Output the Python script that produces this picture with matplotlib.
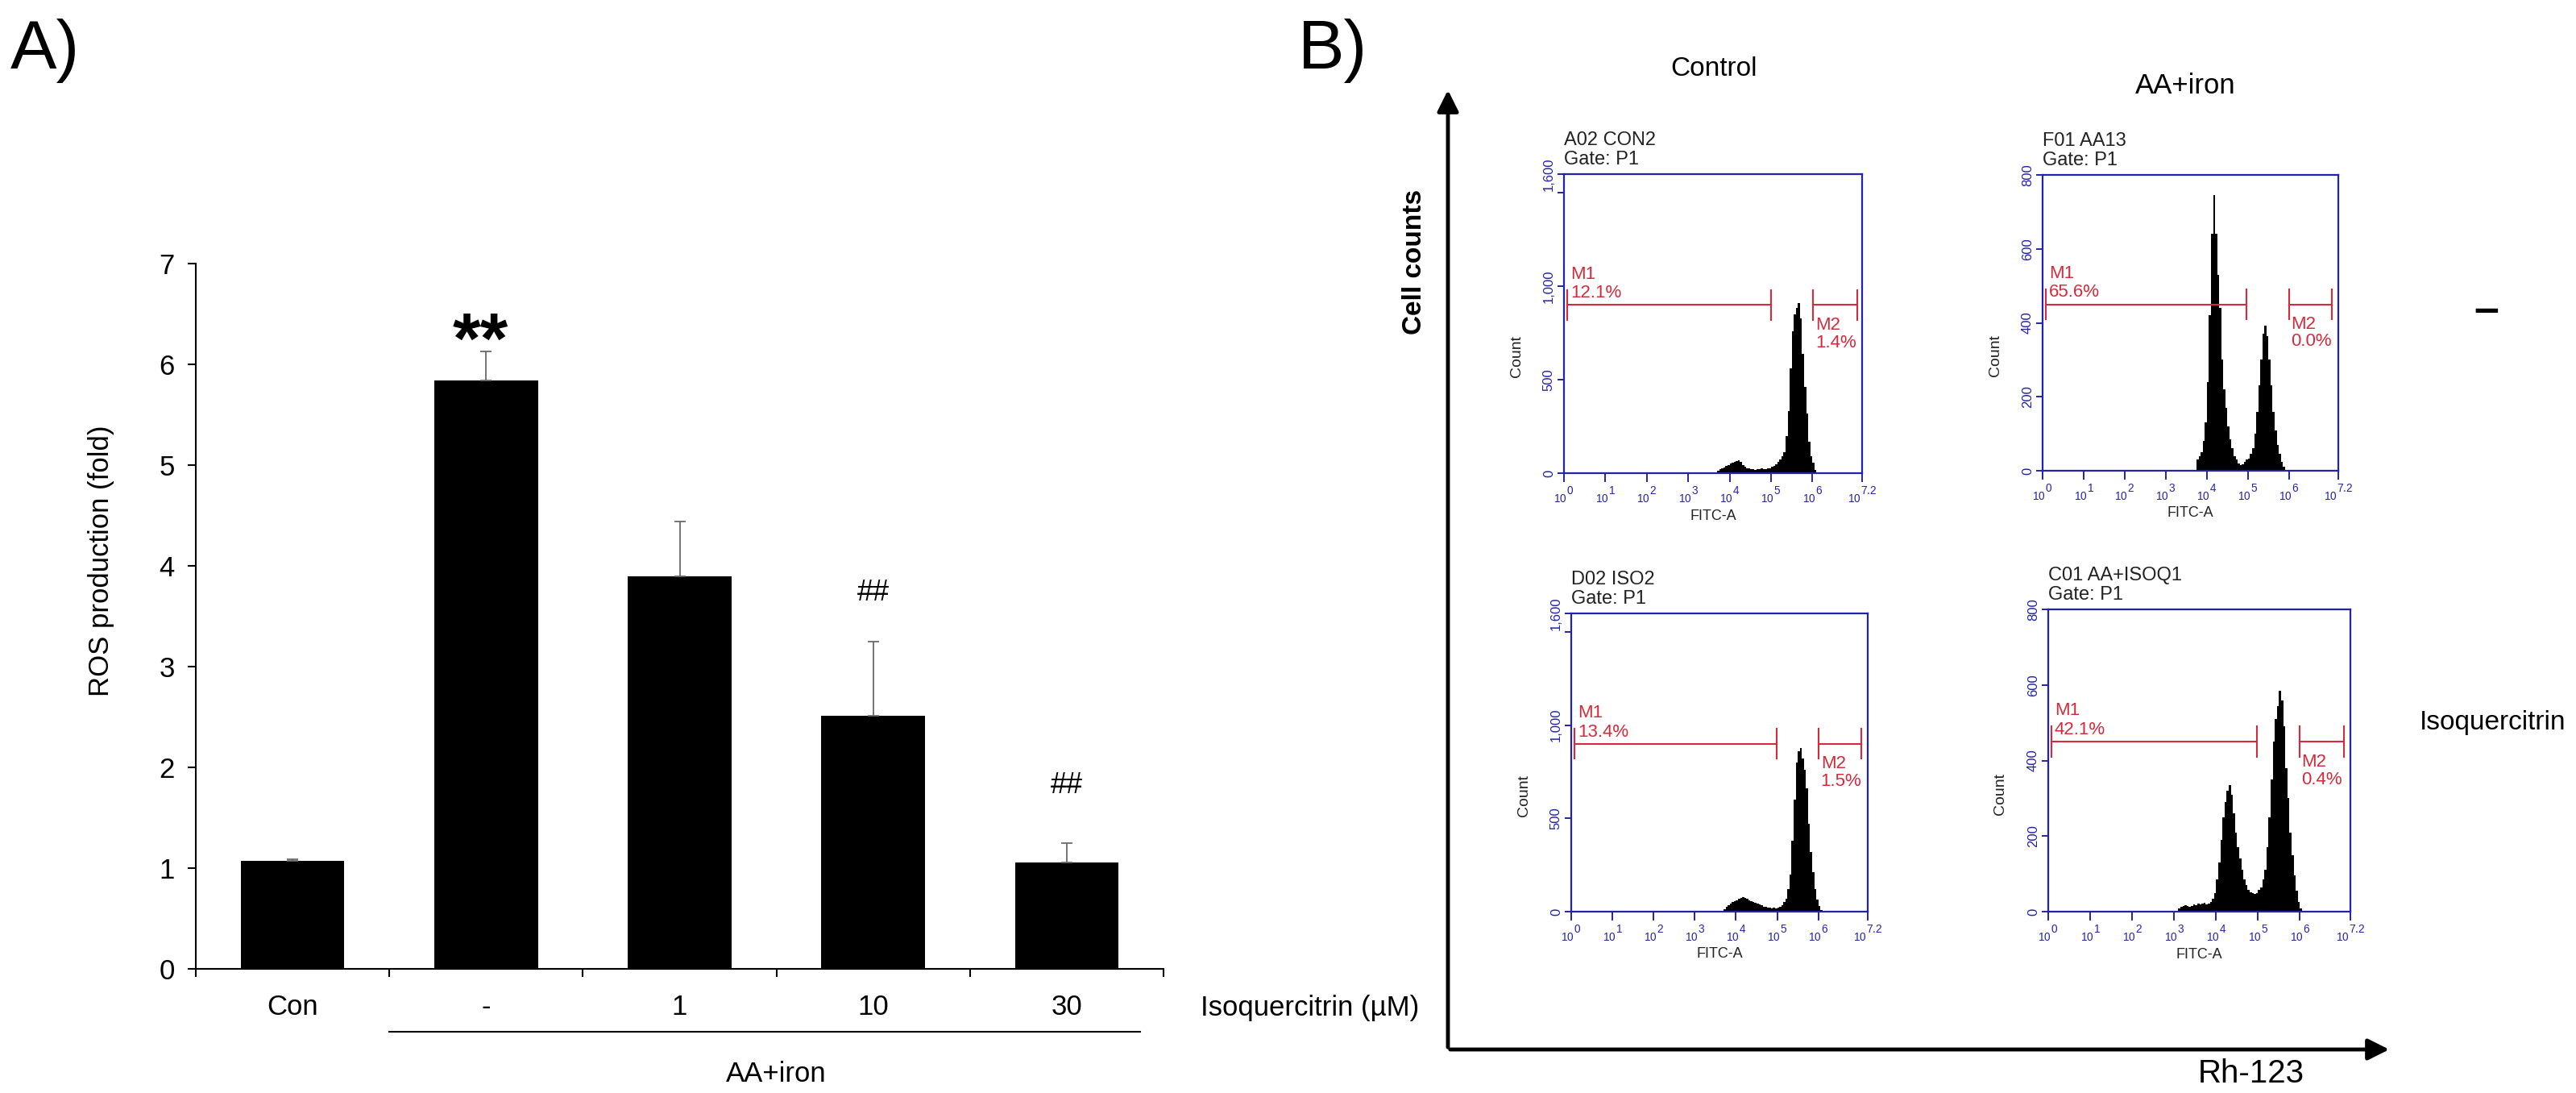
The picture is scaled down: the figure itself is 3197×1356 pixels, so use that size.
import matplotlib
matplotlib.use('Agg')
import matplotlib.pyplot as plt
import numpy as np
from matplotlib.patches import FancyArrowPatch

plt.rcParams['font.family'] = ['Liberation Sans', 'DejaVu Sans']
plt.rcParams['mathtext.fontset'] = 'custom'
plt.rcParams['mathtext.rm'] = 'Liberation Sans'
plt.rcParams['mathtext.default'] = 'regular'

# ---- A) ROS production
groups = ['Con', '-', '1', '10', '30']
ros = [1.07, 5.84, 3.90, 2.51, 1.06]
ros_err = [0.02, 0.29, 0.54, 0.74, 0.19]
sig = ['', '**', '', '##', '##']
sig_y = [0, 6.2, 0, 3.73, 1.82]

# ---- B) flow cytometry histograms (log10 FITC-A, 0.05 bins)
flow_names = ['A02 CON2', 'F01 AA13', 'D02 ISO2', 'C01 AA+ISOQ1']
flow_ymax = [1600, 800, 1600, 800]
flow_start = [3.65, 3.75, 3.65, 3.10]
con2 = [5, 15, 22, 28, 32, 40, 45, 52, 58, 62, 66, 68, 60, 45, 35, 28, 24, 22, 20, 18,
        20, 22, 24, 20, 22, 25, 28, 35, 40, 48, 60, 75, 90, 110, 200, 330, 560, 760, 850,
        885, 910, 830, 640, 460, 320, 170, 90, 55, 18, 5]
aa13 = [30, 40, 50, 80, 130, 240, 420, 640, 745, 640, 530, 440, 300, 220, 170, 120, 85,
        60, 40, 30, 20, 15, 18, 25, 30, 32, 45, 60, 100, 160, 230, 300, 370, 392, 365,
        300, 230, 160, 110, 70, 45, 25, 10, 3]
iso2 = [3, 15, 25, 35, 45, 52, 58, 62, 68, 72, 77, 72, 68, 62, 58, 52, 48, 42, 38, 33,
        28, 25, 22, 20, 18, 22, 18, 20, 25, 35, 50, 70, 120, 200, 380, 600, 800, 860, 880,
        820, 760, 660, 470, 320, 210, 120, 65, 30, 10, 3]
aa_isoq1 = [8, 12, 15, 18, 15, 12, 15, 20, 18, 22, 20, 22, 24, 20, 22, 25, 35, 50, 85,
            130, 190, 250, 290, 320, 335, 310, 260, 210, 170, 140, 110, 85, 70, 58, 52,
            50, 48, 50, 58, 65, 85, 110, 170, 250, 350, 450, 510, 545, 585, 560, 490, 380,
            300, 210, 150, 95, 55, 25, 8, 2]
flow_counts = [con2, aa13, iso2, aa_isoq1]
m_level = [900, 450, 900, 450]
m1_range = [(0.08, 5.0), (0.08, 4.97), (0.08, 4.99), (0.07, 4.97)]
m2_range = [(6.02, 7.08), (6.0, 7.05), (6.01, 7.05), (5.99, 7.05)]
m1_pct = ['12.1%', '65.6%', '13.4%', '42.1%']
m2_pct = ['1.4%', '0.0%', '1.5%', '0.4%']
decades = [0, 1, 2, 3, 4, 5, 6, 7.2]
decade_labels = ['0', '1', '2', '3', '4', '5', '6', '7.2']

W, H = 3197, 1356
fig = plt.figure(figsize=(W / 100, H / 100), dpi=100)

# ---------------- panel A
ax = fig.add_axes([243 / W, 1 - 1202 / H, (1444 - 243) / W, (1202 - 327) / H])
x = np.arange(len(groups)) + 0.5
ax.bar(x, ros, width=0.535, color='black', zorder=2)
ax.errorbar(x, ros, yerr=[np.zeros(len(ros)), ros_err], fmt='none', ecolor='#6a6a6a',
            elinewidth=1.3, capsize=5, capthick=1.3, zorder=3)
for xi, s, yi in zip(x, sig, sig_y):
    if s == '**':
        ax.text(xi - 0.03, yi, s, ha='center', va='center', fontsize=64, fontweight='bold')
    elif s:
        ax.text(xi, yi, s, ha='center', va='center', fontsize=26)
ax.set_xlim(0, len(groups))
ax.set_ylim(0, 7)
ax.set_yticks(range(8))
ax.set_xticks(range(len(groups) + 1))
ax.set_xticklabels([])
ax.set_xticks(x, minor=True)
ax.set_xticklabels(groups, minor=True)
ax.tick_params(axis='x', which='major', direction='out', length=7, width=1.5)
ax.tick_params(axis='x', which='minor', length=0, pad=22, labelsize=25)
ax.tick_params(axis='y', direction='out', length=7, width=1.5, pad=12, labelsize=25)
for side in ['top', 'right']:
    ax.spines[side].set_visible(False)
for side in ['left', 'bottom']:
    ax.spines[side].set_linewidth(1.5)
ax.set_ylabel('ROS production (fold)', fontsize=25)
ax.yaxis.set_label_coords(-0.084, 0.579)
ax.plot([1.0, 4.88], [-0.089, -0.089], color='black', lw=1.5,
        transform=ax.get_xaxis_transform(), clip_on=False)
ax.text(3.0, -0.149, 'AA+iron', ha='center', va='center', fontsize=25,
        transform=ax.get_xaxis_transform())
ax.text(5.19, -0.055, 'Isoquercitrin (\u00b5M)', ha='left', va='center', fontsize=25,
        transform=ax.get_xaxis_transform())

# ---------------- panel B
blue = '#2323a6'
red = '#d42a3c'
rects = [(1941, 216, 2311, 587), (2535, 217, 2902, 584),
         (1950, 761, 2318, 1131), (2542, 756, 2917, 1131)]
for i, (l, t, r, b) in enumerate(rects):
    fa = fig.add_axes([l / W, 1 - b / H, (r - l) / W, (b - t) / H])
    counts = flow_counts[i]
    edges = 10 ** (flow_start[i] + 0.05 * np.arange(len(counts) + 1))
    fa.stairs(counts, edges, fill=True, color='black')
    fa.set_xscale('log')
    fa.set_xlim(1, 10 ** 7.2)
    ymax = flow_ymax[i]
    fa.set_ylim(0, ymax)
    for sp in fa.spines.values():
        sp.set_color(blue)
        sp.set_linewidth(1.6)
    fa.set_xticks([10 ** d for d in decades])
    fa.set_xticklabels([r'$_{10}{}^{%s}$' % s for s in decade_labels])
    fa.xaxis.set_minor_locator(matplotlib.ticker.LogLocator(base=10, subs=np.arange(2, 10)))
    fa.xaxis.set_minor_formatter(matplotlib.ticker.NullFormatter())
    fa.tick_params(axis='x', which='major', colors=blue, length=8, width=1.4,
                   labelsize=14, pad=2)
    fa.tick_params(axis='x', which='minor', colors=blue, length=5, width=1.2)
    if ymax == 1600:
        yt = [0, 500, 1000, 1500, 1600]
        yl = ['0', '500', '1,000', '', '1,600']
    else:
        yt = [0, 200, 400, 600, 800]
        yl = ['0', '200', '400', '600', '800']
    fa.set_yticks(yt)
    fa.set_yticklabels(yl, rotation=90, va='center')
    fa.tick_params(axis='y', colors=blue, length=6, width=1.4, labelsize=12, pad=2)
    fa.set_xlabel('FITC-A', fontsize=13, color='#222222')
    fa.xaxis.set_label_coords(0.5, -0.12)
    fa.set_ylabel('Count', fontsize=14, color='#222222')
    fa.yaxis.set_label_coords(-0.135, 0.39)
    fa.text(0, 1.02, flow_names[i] + '\nGate: P1', transform=fa.transAxes, ha='left',
            va='bottom', fontsize=17, color='#222222', linespacing=1.1)

    lv = m_level[i]
    tk = 0.05 * ymax
    for lo, hi in [m1_range[i], m2_range[i]]:
        fa.plot([10 ** lo, 10 ** hi], [lv, lv], color=red, lw=1.5)
        for e in (lo, hi):
            fa.plot([10 ** e, 10 ** e], [lv - tk, lv + tk], color=red, lw=1.5)
    fa.text(10 ** (m1_range[i][0] + 0.08), lv + 0.103 * ymax, 'M1', color=red,
            fontsize=16, ha='left', va='center')
    fa.text(10 ** (m1_range[i][0] + 0.08), lv + 0.04 * ymax, m1_pct[i], color=red,
            fontsize=16, ha='left', va='center')
    fa.text(10 ** (m2_range[i][0] + 0.05), lv - 0.067 * ymax, 'M2', color=red,
            fontsize=16, ha='left', va='center')
    fa.text(10 ** (m2_range[i][0] + 0.05), lv - 0.126 * ymax, m2_pct[i], color=red,
            fontsize=16, ha='left', va='center')

# frame arrows of panel B
fig.add_artist(FancyArrowPatch((1797 / W, 1 - 1302 / H), (1797 / W, 1 - 109 / H),
                               transform=fig.transFigure, arrowstyle='-|>',
                               mutation_scale=40, lw=3.5, color='black'))
fig.add_artist(FancyArrowPatch((1797 / W, 1 - 1302 / H), (2968 / W, 1 - 1302 / H),
                               transform=fig.transFigure, arrowstyle='-|>',
                               mutation_scale=40, lw=3.5, color='black'))

fig.text(13 / W, 1 - 85 / H, 'A)', fontsize=62, ha='left', va='baseline')
fig.text(1611 / W, 1 - 85 / H, 'B)', fontsize=62, ha='left', va='baseline')
fig.text(2127 / W, 1 - 85 / H, 'Control', fontsize=24, ha='center', va='center')
fig.text(2712 / W, 1 - 107 / H, 'AA+iron', fontsize=25, ha='center', va='center')
fig.text(1755 / W, 1 - 325 / H, 'Cell counts', fontsize=24, fontweight='bold',
         rotation=90, ha='center', va='center')
fig.text(2794 / W, 1 - 1332 / H, 'Rh-123', fontsize=29, ha='center', va='center')
fig.text(3003 / W, 1 - 896 / H, 'Isoquercitrin', fontsize=24, ha='left', va='center')
fig.text(3086 / W, 1 - 386 / H, '\u2013', fontsize=40, fontweight='bold',
         ha='center', va='center')

fig.savefig('out.png', dpi=100)
